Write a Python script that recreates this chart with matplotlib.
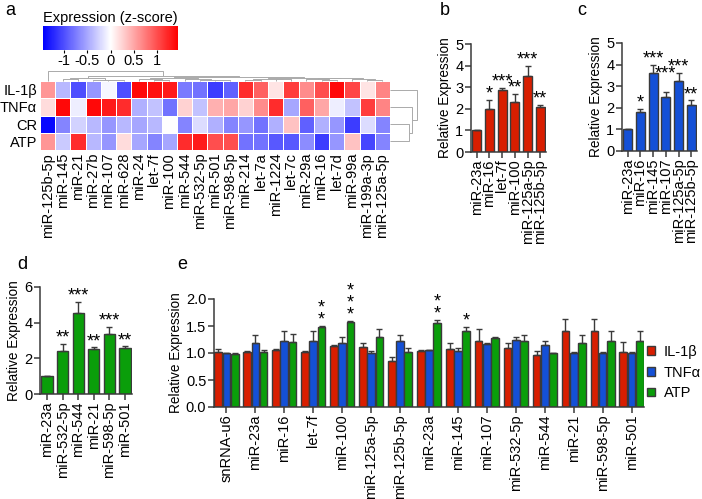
import numpy as np
import matplotlib
matplotlib.use("Agg")
import matplotlib.pyplot as plt
from matplotlib.patches import Patch

plt.rcParams['font.family'] = ['Liberation Sans', 'DejaVu Sans']
plt.rcParams['axes.unicode_minus'] = False

# ---------------- data ----------------
# a: heatmap of z-scores
heat_rows = ['IL-1β', 'TNFα', 'CR', 'ATP']
heat_cols = ['miR-125b-5p', 'miR-145', 'miR-21', 'miR-27b', 'miR-107', 'miR-628',
             'miR-24', 'let-7f', 'miR-100', 'miR-544', 'miR-532-5p', 'miR-501',
             'miR-598-5p', 'miR-214', 'let-7a', 'miR-1224', 'let-7c', 'miR-29a',
             'miR-16', 'let-7d', 'miR-99a', 'miR-199a-3p', 'miR-125a-5p']
heat_il1b = [0.6, -0.4, -1.0, -0.6, -0.05, -1.0, 1.4, 1.35, 1.3, -0.75, -0.8, -1.1,
             -0.9, 1.2, 0.9, 0.15, 1.1, 0.65, 1.0, 1.4, 1.05, 0.15, 0.7]
heat_tnfa = [0.2, 1.4, -0.1, 1.4, 1.3, 1.2, -0.45, -0.35, -0.8, 0.25, -0.35, 0.45,
             0.5, 0.25, 0.65, 1.2, -0.5, 0.9, 0.5, -0.1, -0.35, 1.1, 0.7]
heat_cr = [-1.4, -0.7, -0.25, -0.4, -0.6, -0.4, -0.5, -0.4, 0.0, -0.7, -0.2, -0.45,
           -0.7, -0.6, -0.8, -0.45, 0.35, -0.9, -0.45, -0.6, -1.1, -0.2, -0.7]
heat_atp = [0.6, -0.3, 1.2, -0.4, -0.6, 0.2, -0.5, -0.7, -0.5, 1.2, 1.3, 1.0,
            1.0, -0.8, -0.8, -0.95, -0.95, -0.65, -1.1, -0.6, 0.35, -1.05, -0.7]

# linkage trees: leaf = index, node = [left, right, height]
col_tree = [0, [[[1, 2, 2.0], [3, [4, 5, 1.0], 1.5], 3.5],
                [[[6, [7, 8, 1.0], 2.0], [9, [10, [11, 12, 1.0], 1.5], 2.0], 3.5],
                 [[[13, 14, 1.5], [15, 16, 2.0], 2.5],
                  [[17, [18, 19, 1.5], 2.0], [20, [21, 22, 1.5], 2.5], 3.0], 3.5], 4.5], 5.0], 10.0]
row_tree = [0, [1, [2, 3, 19.0], 22.0], 27.0]

# b
b_labels = ['miR-23a', 'miR-16', 'let-7f', 'miR-100', 'miR-125a-5p', 'miR-125b-5p']
b_means = [1.0, 1.97, 2.85, 2.33, 3.52, 2.1]
b_errs = [0.0, 0.45, 0.12, 0.35, 0.48, 0.08]
b_stars = ['', '*', '***', '**', '***', '**']

# c
c_labels = ['miR-23a', 'miR-16', 'miR-145', 'miR-107', 'miR-125a-5p', 'miR-125b-5p']
c_means = [1.0, 1.8, 3.6, 2.5, 3.22, 2.15]
c_errs = [0.0, 0.15, 0.38, 0.22, 0.4, 0.2]
c_stars = ['', '*', '***', '***', '***', '**']
c_star_level = [None, None, None, 3.3, None, None]

# d
d_labels = ['miR-23a', 'miR-532-5p', 'miR-544', 'miR-21', 'miR-598-5p', 'miR-501']
d_means = [1.0, 2.43, 4.52, 2.5, 3.35, 2.58]
d_errs = [0.0, 0.38, 0.65, 0.12, 0.4, 0.1]
d_stars = ['', '**', '***', '**', '***', '**']

# e
e_labels = ['snRNA-u6', 'miR-23a', 'miR-16', 'let-7f', 'miR-100', 'miR-125a-5p',
            'miR-125b-5p', 'miR-23a', 'miR-145', 'miR-107', 'miR-532-5p', 'miR-544',
            'miR-21', 'miR-598-5p', 'miR-501']
e_il1b = [1.02, 1.02, 1.05, 1.02, 1.13, 1.12, 0.85, 1.03, 1.07, 1.22, 1.09, 0.97, 1.41, 1.40, 1.02]
e_il1b_err = [0.05, 0.02, 0.03, 0.02, 0.01, 0.07, 0.07, 0.02, 0.11, 0.23, 0.09, 0.07, 0.22, 0.23, 0.19]
e_tnfa = [1.0, 1.19, 1.22, 1.23, 1.19, 1.0, 1.22, 1.05, 1.03, 1.16, 1.25, 1.15, 1.0, 1.0, 1.0]
e_tnfa_err = [0.0, 0.15, 0.18, 0.17, 0.1, 0.03, 0.11, 0.01, 0.07, 0.03, 0.05, 0.07, 0.02, 0.02, 0.02]
e_atp = [0.98, 1.01, 1.21, 1.48, 1.57, 1.29, 1.02, 1.56, 1.41, 1.28, 1.23, 1.0, 1.19, 1.22, 1.23]
e_atp_err = [0.02, 0.04, 0.15, 0.02, 0.03, 0.15, 0.07, 0.05, 0.08, 0.01, 0.1, 0.0, 0.15, 0.18, 0.17]
e_atp_stars = ['', '', '', '**', '***', '', '', '**', '*', '', '', '', '', '', '']

RED = '#d81e00'
BLUE = '#1450d6'
GREEN = '#0a9e0a'
EDGE = '#3a3a3a'
FS = 10.5
YL = 9.8


def style_axes(ax):
    for s in ['top', 'right']:
        ax.spines[s].set_visible(False)
    for s in ['left', 'bottom']:
        ax.spines[s].set_linewidth(1.1)
        ax.spines[s].set_color(EDGE)
    ax.tick_params(direction='out', length=4, width=1.1, color=EDGE, labelsize=FS, pad=1.5)


def bar_panel(ax, labels, means, errs, stars, color, ymax, yticks, star_level=None):
    x = np.arange(len(labels))
    ax.bar(x, means, width=0.72, color=color, edgecolor=EDGE, linewidth=1,
           yerr=[np.zeros(len(errs)), errs],
           error_kw=dict(ecolor=EDGE, elinewidth=1, capsize=2.2, capthick=1), zorder=2)
    for i, s in enumerate(stars):
        if not s:
            continue
        top = means[i] + errs[i]
        if star_level is not None and star_level[i] is not None:
            top = star_level[i]
        ax.annotate(s, (x[i], top), xytext=(0, -2), textcoords='offset points',
                    ha='center', va='bottom', fontsize=13)
    ax.set_xticks(x)
    ax.set_xticklabels(labels, rotation=90)
    ax.set_xlim(-0.45, len(labels) - 0.55)
    ax.set_ylim(0, ymax)
    ax.set_yticks(yticks)
    ax.set_ylabel('Relative Expression', fontsize=YL, labelpad=2)
    style_axes(ax)


def draw_tree(ax, tree, orient, scale, base):
    def walk(node):
        if isinstance(node, int):
            return node + 0.5, 0.0
        left, right, h = node
        pl, hl = walk(left)
        pr, hr = walk(right)
        if orient == 'top':
            xs = [pl, pl, pr, pr]
            ys = [base - hl * scale, base - h * scale, base - h * scale, base - hr * scale]
        else:
            ys = [pl, pl, pr, pr]
            xs = [base + hl * scale, base + h * scale, base + h * scale, base + hr * scale]
        ax.plot(xs, ys, color='#aaaaaa', lw=0.7, clip_on=False, solid_capstyle='butt')
        return (pl + pr) / 2, h
    walk(tree)


fig = plt.figure(figsize=(7.02, 4.99), dpi=100)

# ---------------- a ----------------
ax_a = fig.add_axes([40 / 702, 1 - 150 / 499, 350 / 702, 69 / 499])
heat = np.array([heat_il1b, heat_tnfa, heat_cr, heat_atp])
mesh = ax_a.pcolormesh(heat, cmap='bwr', vmin=-1.45, vmax=1.45, edgecolors='white', linewidth=0.6)
ax_a.set_xlim(0, len(heat_cols))
ax_a.set_ylim(len(heat_rows), 0)
ax_a.set_xticks(np.arange(len(heat_cols)) + 0.5)
ax_a.set_xticklabels(heat_cols, rotation=90, fontsize=FS)
ax_a.set_yticks(np.arange(len(heat_rows)) + 0.5)
ax_a.set_yticklabels(heat_rows, fontsize=FS)
ax_a.tick_params(length=0, pad=2)
for s in ax_a.spines.values():
    s.set_visible(False)
draw_tree(ax_a, col_tree, 'top', 1 / 17.25, 0.0)
draw_tree(ax_a, row_tree, 'right', 1 / 15.2, len(heat_cols))

cax = fig.add_axes([43 / 702, 1 - 50 / 499, 135 / 702, 24 / 499])
cb = fig.colorbar(mesh, cax=cax, orientation='horizontal', ticks=[-1, -0.5, 0, 0.5, 1])
cb.ax.set_xticklabels(['-1', '-0.5', '0', '0.5', '1'])
cb.outline.set_visible(False)
cb.ax.tick_params(length=2, width=0.8, labelsize=FS, pad=1)
cb.ax.set_title('Expression (z-score)', fontsize=FS, pad=3)

# ---------------- b, c, d ----------------
ax_b = fig.add_axes([471 / 702, 1 - 152 / 499, 75 / 702, 108 / 499])
bar_panel(ax_b, b_labels, b_means, b_errs, b_stars, RED, 5, range(6))

ax_c = fig.add_axes([622 / 702, 1 - 151 / 499, 75 / 702, 108 / 499])
bar_panel(ax_c, c_labels, c_means, c_errs, c_stars, BLUE, 5, range(6), c_star_level)

ax_d = fig.add_axes([40 / 702, 1 - 394 / 499, 92 / 702, 107 / 499])
bar_panel(ax_d, d_labels, d_means, d_errs, d_stars, GREEN, 6, [0, 2, 4, 6])

# ---------------- e ----------------
ax_e = fig.add_axes([214 / 702, 1 - 407 / 499, 430 / 702, 108 / 499])
xe = np.arange(len(e_labels))
bw = 0.265
series = [(e_il1b, e_il1b_err, RED, -1), (e_tnfa, e_tnfa_err, BLUE, 0), (e_atp, e_atp_err, GREEN, 1)]
for vals, errs, col, k in series:
    ax_e.bar(xe + k * 0.285, vals, width=bw, color=col, edgecolor=EDGE, linewidth=1,
             yerr=[np.zeros(len(errs)), errs],
             error_kw=dict(ecolor=EDGE, elinewidth=1, capsize=2, capthick=1), zorder=2)
for i, s in enumerate(e_atp_stars):
    if s:
        ax_e.annotate('\n'.join(s), (xe[i] + 0.285, e_atp[i] + e_atp_err[i]), xytext=(0, -2),
                      textcoords='offset points', ha='center', va='bottom', fontsize=13,
                      linespacing=0.62)
ax_e.set_xticks(xe)
ax_e.set_xticklabels(e_labels, rotation=90)
ax_e.set_xlim(-0.43, len(e_labels) - 0.57)
ax_e.set_ylim(0, 2.0)
ax_e.set_yticks([0, 0.5, 1.0, 1.5, 2.0])
ax_e.set_yticklabels(['0.0', '0.5', '1.0', '1.5', '2.0'])
ax_e.set_ylabel('Relative Expression', fontsize=YL, labelpad=2)
style_axes(ax_e)
handles = [Patch(facecolor=c, edgecolor=EDGE, linewidth=1) for c in (RED, BLUE, GREEN)]
fig.legend(handles, ['IL-1β', 'TNFα', 'ATP'], loc='upper left',
           bbox_to_anchor=(647 / 702, 1 - 345 / 499), frameon=False, fontsize=FS,
           borderpad=0, borderaxespad=0, handlelength=0.55, handleheight=0.55,
           handletextpad=0.6, labelspacing=0.45)

# panel letters
for lab, px, py in [('a', 5, 2), ('b', 440, 2), ('c', 577, 2), ('d', 17, 256), ('e', 177, 256)]:
    fig.text(px / 702, 1 - py / 499, lab, fontsize=13, va='top', ha='left')

fig.savefig('out.png', dpi=100)
